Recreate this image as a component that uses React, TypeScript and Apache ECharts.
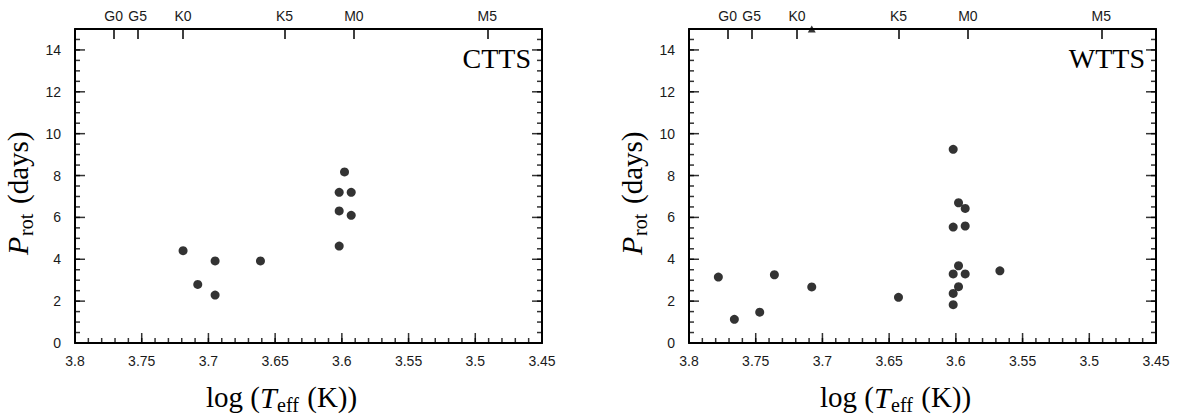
import React, { useEffect, useRef } from "react";
import * as echarts from "echarts";

// Rotation periods versus effective temperature for classical and weak-line T Tauri stars
const cttsLogTeff = [3.719, 3.695, 3.661, 3.708, 3.695, 3.598, 3.602, 3.593, 3.602, 3.593, 3.602];
const cttsProt = [4.41, 3.92, 3.92, 2.8, 2.29, 8.17, 7.2, 7.2, 6.31, 6.1, 4.63];

const wttsLogTeff = [
  3.778, 3.766, 3.747, 3.736, 3.708, 3.643, 3.602, 3.598, 3.593, 3.602, 3.593, 3.598, 3.602, 3.593,
  3.598, 3.602, 3.602, 3.567,
];
const wttsProt = [
  3.15, 1.13, 1.47, 3.26, 2.68, 2.18, 9.25, 6.7, 6.43, 5.54, 5.59, 3.69, 3.3, 3.3, 2.69, 2.37, 1.83,
  3.45,
];

// period beyond the plotted range, shown as a triangle on the upper frame
const wttsLimitLogTeff = [3.708];
const wttsLimitProt = [15];

// spectral-type scale along the top frame
const spectralTypes = ["G0", "G5", "K0", "K5", "M0", "M5"];
const spectralLogTeff = [3.771, 3.753, 3.719, 3.643, 3.591, 3.491];

// labelled ticks
const logTeffTicks = [3.45, 3.5, 3.55, 3.6, 3.65, 3.7, 3.75, 3.8];
const periodTicks = [0, 2, 4, 6, 8, 10, 12, 14];

// minor tick steps
const LOG_MINOR_STEP = 0.01;
const PERIOD_MINOR_STEP = 0.5;

const panelNames = ["CTTS", "WTTS"];

const INK = "#000";
const TEXT = "#1a1a1a";
const SERIF = "'Liberation Serif', 'Times New Roman', serif";
const SANS = "'Liberation Sans', Arial, sans-serif";

const X_MIN = 3.45;
const X_MAX = 3.8;
const Y_MIN = 0;
const Y_MAX = 15;

function zip(xs: number[], ys: number[]) {
  return xs.map((x, i) => [x, ys[i]]);
}
function fmtLog(v: number) {
  return String(parseFloat(v.toFixed(2)));
}
function spectralLabel(v: number) {
  let best = 0;
  for (let i = 1; i < spectralLogTeff.length; i++) {
    if (Math.abs(spectralLogTeff[i] - v) < Math.abs(spectralLogTeff[best] - v)) best = i;
  }
  return spectralTypes[best];
}
function steps(lo: number, hi: number, step: number) {
  const out: number[] = [];
  const n = Math.round((hi - lo) / step);
  for (let k = 0; k <= n; k++) out.push(Math.round((lo + k * step) * 1000) / 1000);
  return out;
}

const logMinor = steps(X_MIN, X_MAX, LOG_MINOR_STEP);
const periodMinor = steps(Y_MIN, Y_MAX - PERIOD_MINOR_STEP, PERIOD_MINOR_STEP);

const PLOT_LEFT = [75, 689];
const PLOT_TOP = 29;
const PLOT_W = 467;
const PLOT_H = 314;

const MAJOR_LEN = 10;
const MINOR_LEN = 5;
const TICK_W = 1.5;

// fresh style objects for every axis part
const frame = () => ({ color: INK, width: 2 });
const tick = () => ({ color: INK, width: TICK_W });
const tickFont = () => ({ fontSize: 14, fontFamily: SANS, color: TEXT });

// one piece of a typeset title; y is the piece's vertical centre
function piece(text: string, x: number, y: number, size: number, italic = false) {
  return {
    type: "text",
    x,
    y,
    style: {
      text,
      fontFamily: SERIF,
      fontSize: size,
      fontStyle: italic ? "italic" : "normal",
      fill: INK,
      align: "left",
      verticalAlign: "middle",
    },
  };
}

// centre of an em box sits about a third of the size above the baseline
const mid = (size: number) => -0.3375 * size;

// inward tick marks along the frame, placed through the panel's own scales
function tickMarks(panel: number, data: number[][], size: number[], offset: number[]) {
  return {
    type: "scatter",
    xAxisIndex: panel * 2,
    yAxisIndex: panel * 2,
    symbol: "rect",
    symbolSize: size,
    symbolOffset: offset,
    clip: false,
    silent: true,
    z: 3,
    itemStyle: { color: INK },
    data,
  };
}

export default function App() {
  const ref = useRef<HTMLDivElement>(null);

  useEffect(() => {
    if (!ref.current) return;
    const chart = echarts.init(ref.current, undefined, { renderer: "svg" });

    const grids: any[] = [];
    const xAxes: any[] = [];
    const yAxes: any[] = [];
    const graphics: any[] = [];
    const frameTicks: any[] = [];

    PLOT_LEFT.forEach((left, i) => {
      grids.push({ left, top: PLOT_TOP, width: PLOT_W, height: PLOT_H });

      // bottom log Teff axis
      xAxes.push({
        type: "value",
        gridIndex: i,
        position: "bottom",
        min: X_MIN,
        max: X_MAX,
        inverse: true,
        axisLine: { show: true, onZero: false, lineStyle: frame() },
        axisTick: { show: false },
        axisLabel: {
          show: true,
          margin: 11,
          ...tickFont(),
          customValues: logTeffTicks,
          formatter: (v: number) => fmtLog(v),
        },
        splitLine: { show: false },
      });

      // top spectral-type axis
      xAxes.push({
        type: "value",
        gridIndex: i,
        position: "top",
        min: X_MIN,
        max: X_MAX,
        inverse: true,
        axisLine: { show: true, onZero: false, lineStyle: frame() },
        axisTick: {
          show: true,
          inside: true,
          length: MAJOR_LEN,
          lineStyle: tick(),
          customValues: spectralLogTeff,
        },
        axisLabel: {
          show: true,
          margin: 6,
          ...tickFont(),
          customValues: spectralLogTeff,
          formatter: (v: number) => spectralLabel(v),
        },
        splitLine: { show: false },
      });

      // left period axis
      yAxes.push({
        type: "value",
        gridIndex: i,
        position: "left",
        min: Y_MIN,
        max: Y_MAX,
        axisLine: { show: true, onZero: false, lineStyle: frame() },
        axisTick: { show: false },
        axisLabel: { show: true, margin: 14, ...tickFont(), customValues: periodTicks },
        splitLine: { show: false },
      });

      // right frame
      yAxes.push({
        type: "value",
        gridIndex: i,
        position: "right",
        min: Y_MIN,
        max: Y_MAX,
        axisLine: { show: true, onZero: false, lineStyle: frame() },
        axisTick: { show: false },
        axisLabel: { show: false },
        splitLine: { show: false },
      });

      // bottom ticks (major and minor) pointing up
      frameTicks.push(
        tickMarks(i, logTeffTicks.map((x) => [x, Y_MIN]), [TICK_W, MAJOR_LEN], [0, -MAJOR_LEN / 2]),
        tickMarks(i, logMinor.map((x) => [x, Y_MIN]), [TICK_W, MINOR_LEN], [0, -MINOR_LEN / 2]),
        // left ticks pointing right
        tickMarks(i, periodTicks.map((y) => [X_MAX, y]), [MAJOR_LEN, TICK_W], [MAJOR_LEN / 2, 0]),
        tickMarks(i, periodMinor.map((y) => [X_MAX, y]), [MINOR_LEN, TICK_W], [MINOR_LEN / 2, 0]),
        // right ticks pointing left
        tickMarks(i, periodTicks.map((y) => [X_MIN, y]), [MAJOR_LEN, TICK_W], [-MAJOR_LEN / 2, 0]),
        tickMarks(i, periodMinor.map((y) => [X_MIN, y]), [MINOR_LEN, TICK_W], [-MINOR_LEN / 2, 0])
      );

      // panel name in the upper right corner
      graphics.push({
        type: "text",
        x: left + PLOT_W - 11,
        y: 58,
        style: {
          text: panelNames[i],
          fontFamily: SERIF,
          fontSize: 28,
          fill: INK,
          align: "right",
          verticalAlign: "middle",
        },
      });

      // x-axis title: log (T_eff (K)), baseline at y = 407
      graphics.push({
        type: "group",
        x: left + 131,
        y: 407,
        children: [
          piece("log (", 0, mid(29), 29),
          piece("T", 54, mid(29), 30, true),
          piece("eff", 71, 5 + mid(20), 20),
          piece(" (K))", 94, mid(29), 29),
        ],
      });

      // y-axis title: P_rot (days), reading upwards
      graphics.push({
        type: "group",
        x: left - 47,
        y: 191,
        rotation: Math.PI / 2,
        children: [
          piece("P", -64, mid(30), 30, true),
          piece("rot", -45, 5 + mid(20), 20),
          piece("(days)", -13, mid(29), 29),
        ],
      });
    });

    chart.setOption({
      animation: false,
      backgroundColor: "#fff",
      grid: grids,
      xAxis: xAxes,
      yAxis: yAxes,
      series: [
        {
          name: "CTTS",
          type: "scatter",
          xAxisIndex: 0,
          yAxisIndex: 0,
          symbol: "circle",
          symbolSize: 9,
          itemStyle: { color: INK },
          data: zip(cttsLogTeff, cttsProt),
        },
        {
          name: "WTTS",
          type: "scatter",
          xAxisIndex: 2,
          yAxisIndex: 2,
          symbol: "circle",
          symbolSize: 9,
          itemStyle: { color: INK },
          data: zip(wttsLogTeff, wttsProt),
        },
        {
          name: "WTTS limit",
          type: "scatter",
          xAxisIndex: 2,
          yAxisIndex: 2,
          symbol: "triangle",
          symbolSize: [8, 7],
          clip: false,
          itemStyle: { color: INK },
          data: zip(wttsLimitLogTeff, wttsLimitProt),
        },
        ...frameTicks,
      ],
      graphic: graphics,
    });

    return () => {
      chart.dispose();
    };
  }, []);

  return (
    <div
      ref={ref}
      style={{ position: "absolute", left: 0, top: 0, width: 1182, height: 415, background: "#fff" }}
    />
  );
}
